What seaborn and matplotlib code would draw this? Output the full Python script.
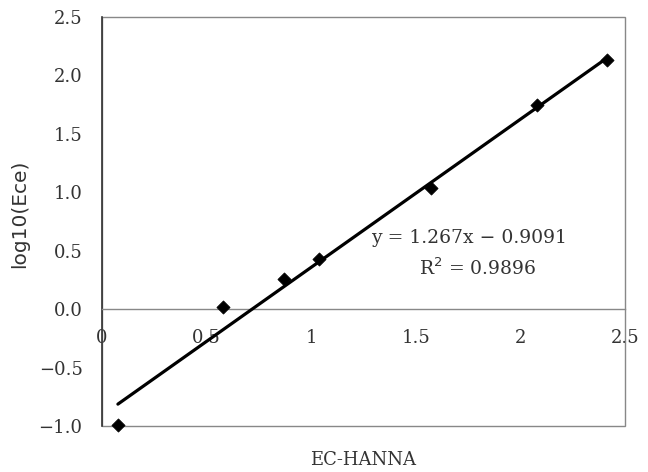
import numpy as np
import pandas as pd
import matplotlib
matplotlib.use("Agg")
import matplotlib.pyplot as plt
import seaborn as sns
from matplotlib.patches import Rectangle

# Data
ec_hanna = [0.076, 0.58, 0.87, 1.036, 1.573, 2.08, 2.415]
log_ece = [-0.99, 0.02, 0.26, 0.43, 1.04, 1.75, 2.13]
slope = 1.267
intercept = -0.9091
r_squared = 0.9896

x_ticks = [0, 0.5, 1, 1.5, 2, 2.5]
x_tick_labels = ["0", "0.5", "1", "1.5", "2", "2.5"]
y_ticks = [-1.0, -0.5, 0.0, 0.5, 1.0, 1.5, 2.0, 2.5]
y_tick_labels = ["−1.0", "−0.5", "0.0", "0.5", "1.0", "1.5", "2.0", "2.5"]

sns.set_style("white")
plt.rcParams['font.family'] = ['DejaVu Serif']

df = pd.DataFrame({"EC-HANNA": ec_hanna, "log10(Ece)": log_ece})
fit_x = np.array([min(ec_hanna), max(ec_hanna)])
fit_df = pd.DataFrame({"x": fit_x, "y": slope * fit_x + intercept})

fig = plt.figure(figsize=(6.48, 4.72), dpi=100)
ax = fig.add_axes([102/648, 1 - 426/472, (625-102)/648, (426-17)/472])

sns.lineplot(data=fit_df, x="x", y="y", ax=ax, color="black", linewidth=2.3, zorder=3)
sns.scatterplot(data=df, x="EC-HANNA", y="log10(Ece)", ax=ax, marker="D", s=45,
                color="black", edgecolor="black", zorder=4, clip_on=False)

ax.set_xlim(0, 2.5)
ax.set_ylim(-1.0, 2.5)

# bottom spine at y = 0
ax.spines['bottom'].set_position(('data', 0))
ax.spines['bottom'].set_color('#888888')
ax.spines['bottom'].set_linewidth(1.0)
ax.spines['top'].set_visible(False)
ax.spines['right'].set_visible(False)
ax.spines['left'].set_color('#333333')
ax.spines['left'].set_linewidth(1.2)

frame = Rectangle((0, 0), 1, 1, transform=ax.transAxes, fill=False,
                  edgecolor='#888888', linewidth=1.0, clip_on=False, zorder=1)
ax.add_patch(frame)

ax.set_xticks(x_ticks)
ax.set_xticklabels(x_tick_labels, fontsize=13, color='#333333')
ax.set_yticks(y_ticks)
ax.set_yticklabels(y_tick_labels, fontsize=13, color='#333333')
ax.tick_params(axis='x', direction='in', length=4, width=1, color='#888888', pad=14)
ax.tick_params(axis='y', direction='in', length=4, width=1, color='#888888', pad=14)

ax.set_xlabel("EC-HANNA", fontsize=13, color='#333333')
ax.xaxis.set_label_coords(0.5, -0.062)
ax.set_ylabel("log10(Ece)", fontsize=14.5, color='#333333', family='DejaVu Sans')
ax.yaxis.set_label_coords(-0.14, 0.52)

ax.text(1.754, 0.607, "y = 1.267x − 0.9091", fontsize=13.5, ha='center', va='center',
        color='#333333')
ax.text(1.797, 0.35, "R$^2$ = 0.9896", fontsize=13.5, ha='center', va='center',
        color='#333333')

fig.savefig("out.png", dpi=100)
